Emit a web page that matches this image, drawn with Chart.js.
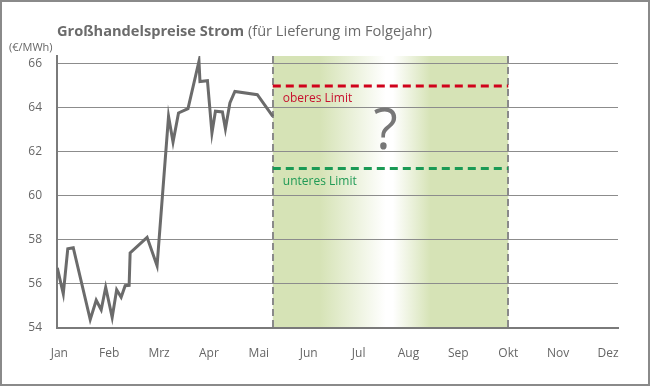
<!DOCTYPE html>
<html>
<head>
<meta charset="utf-8">
<script src="https://cdn.jsdelivr.net/npm/chart.js@4/dist/chart.umd.min.js"></script>
<style>
html,body{margin:0;padding:0;background:#fff;}
#wrap{width:650px;height:386px;position:relative;}
</style>
</head>
<body>
<div id="wrap"><canvas id="c"></canvas></div>
<script>
// ---- data ----
const months = ['Jan','Feb','Mrz','Apr','Mai','Jun','Jul','Aug','Sep','Okt','Nov','Dez'];
const yTicks = [54, 56, 58, 60, 62, 64, 66];
// x position in months (0 = Jan)
const priceX = [-0.04,0.08,0.17,0.28,0.62,0.74,0.84,0.93,1.06,1.15,1.24,1.32,1.40,1.42,1.76,1.96,2.19,2.28,2.39,2.58,2.80,2.82,2.97,3.06,3.13,3.27,3.33,3.42,3.52,3.97,4.28];
const priceY = [56.73,55.55,57.6,57.65,54.38,55.26,54.83,55.85,54.48,55.74,55.4,55.92,55.94,57.41,58.12,56.83,63.62,62.45,63.77,63.97,66.12,65.2,65.24,62.86,63.85,63.82,63.05,64.23,64.75,64.6,63.62];
const forecastStart = 4.28;
const forecastEnd = 9.0;
const upperLimit = 65.0;
const lowerLimit = 61.25;
const titleBold = 'Großhandelspreise Strom';
const titleNormal = ' (für Lieferung im Folgejahr)';
const unitLabel = '(€/MWh)';
const upperLabel = 'oberes Limit';
const lowerLabel = 'unteres Limit';

const FONT = '"Open Sans", "Noto Sans", sans-serif';
const GREEN_BG = '#d6e3b6';

const pricePoints = priceX.map((x,i)=>({x, y: priceY[i]}));
const upperPoints = [{x: forecastStart, y: upperLimit}, {x: forecastEnd, y: upperLimit}];
const lowerPoints = [{x: forecastStart, y: lowerLimit}, {x: forecastEnd, y: lowerLimit}];

const deco = {
  id: 'deco',
  beforeDraw(chart) {
    const {ctx, scales:{x, y}, chartArea} = chart;
    const x0 = x.getPixelForValue(forecastStart), x1 = x.getPixelForValue(forecastEnd);
    const g = ctx.createLinearGradient(x0, 0, x1, 0);
    g.addColorStop(0, GREEN_BG);
    g.addColorStop(0.2, GREEN_BG);
    g.addColorStop(0.48, '#ffffff');
    g.addColorStop(0.51, '#ffffff');
    g.addColorStop(0.67, GREEN_BG);
    g.addColorStop(1, GREEN_BG);
    ctx.save();
    ctx.fillStyle = g;
    ctx.fillRect(x0, chartArea.top, x1 - x0, chartArea.bottom - chartArea.top);
    ctx.restore();
  },
  beforeDatasetsDraw(chart) {
    const {ctx, scales:{x}, chartArea} = chart;
    ctx.save();
    ctx.strokeStyle = '#8a8a8a';
    ctx.lineWidth = 2;
    ctx.setLineDash([7, 4]);
    [forecastStart, forecastEnd].forEach(v => {
      const px = Math.round(x.getPixelForValue(v));
      ctx.beginPath();
      ctx.moveTo(px, chartArea.top);
      ctx.lineTo(px, chartArea.bottom);
      ctx.stroke();
    });
    ctx.restore();
  },
  afterDatasetsDraw(chart) {
    const {ctx, scales:{x, y}} = chart;
    const x0 = x.getPixelForValue(forecastStart);
    ctx.save();
    ctx.textBaseline = 'middle';
    ctx.textAlign = 'left';
    ctx.font = '12px ' + FONT;
    ctx.fillStyle = '#c8102e';
    ctx.fillText(upperLabel, x0 + 10, y.getPixelForValue(upperLimit) + 13);
    ctx.fillStyle = '#1f9a55';
    ctx.fillText(lowerLabel, x0 + 10, y.getPixelForValue(lowerLimit) + 13);
    ctx.fillStyle = '#777777';
    ctx.textAlign = 'center';
    ctx.font = '56px ' + FONT;
    const xm = x.getPixelForValue((forecastStart + forecastEnd) / 2) - 5;
    ctx.fillText('?', xm, y.getPixelForValue((upperLimit + lowerLimit) / 2) + 6);
    ctx.restore();
  },
  afterDraw(chart) {
    const {ctx, width, height} = chart;
    ctx.save();
    ctx.fillStyle = '#6b6b6b';
    ctx.textBaseline = 'alphabetic';
    ctx.textAlign = 'left';
    ctx.font = 'bold 14.6px ' + FONT;
    ctx.fillText(titleBold, 57, 36);
    const w = ctx.measureText(titleBold).width;
    ctx.font = '14.6px ' + FONT;
    ctx.fillText(titleNormal, 57 + w, 36);
    ctx.font = '11px ' + FONT;
    ctx.fillStyle = '#666';
    ctx.fillText(unitLabel, 9, 51);
    ctx.strokeStyle = '#8a8a8a';
    ctx.lineWidth = 2;
    ctx.strokeRect(1, 1, width - 2, height - 2);
    ctx.restore();
  }
};

new Chart(document.getElementById('c'), {
  type: 'line',
  data: {
    datasets: [
      {data: pricePoints, borderColor: '#6b6b6b', borderWidth: 3, pointRadius: 0, tension: 0, fill: false},
      {data: upperPoints, borderColor: '#d0021b', borderWidth: 3, borderDash: [8, 5], pointRadius: 0, fill: false},
      {data: lowerPoints, borderColor: '#1a9a55', borderWidth: 3, borderDash: [8, 5], pointRadius: 0, fill: false}
    ]
  },
  options: {
    responsive: true,
    maintainAspectRatio: false,
    animation: false,
    layout: {padding: {top: 56, right: 32, left: 0, bottom: 0}},
    plugins: {legend: {display: false}, tooltip: {enabled: false}, title: {display: false}},
    scales: {
      x: {
        type: 'linear',
        min: -0.046,
        max: 11.2,
        afterBuildTicks(s) { s.ticks = months.map((m, i) => ({value: i})); },
        afterFit(s) { s.height = 386 - 328 - 0; },
        grid: {display: false, drawTicks: false},
        border: {display: true, color: '#7a7a7a', width: 2},
        ticks: {
          padding: 18,
          color: '#666',
          font: {family: FONT, size: 12},
          maxRotation: 0,
          autoSkip: false,
          callback: (v) => months[v]
        }
      },
      y: {
        min: 54,
        max: 66.36,
        afterBuildTicks(s) { s.ticks = yTicks.map(v => ({value: v})); },
        afterFit(s) { s.width = 57; },
        grid: {color: '#8c8c8c', lineWidth: 1, drawTicks: false},
        border: {display: true, color: '#7a7a7a', width: 2},
        ticks: {
          padding: 15,
          color: '#666',
          font: {family: FONT, size: 12}
        }
      }
    }
  },
  plugins: [deco]
});
</script>
</body>
</html>
